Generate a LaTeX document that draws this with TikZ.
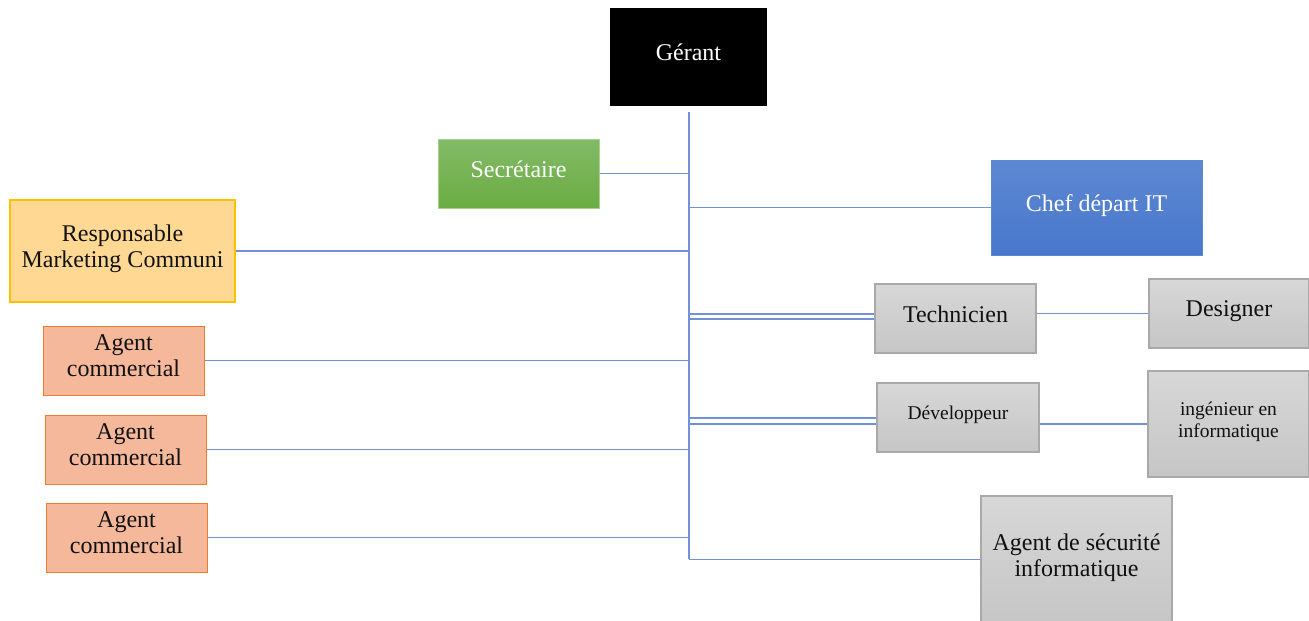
\documentclass[tikz,border=0pt]{standalone}
\usepackage{fontspec}
\setmainfont{Liberation Serif}
\definecolor{conn}{HTML}{7391D8}
\definecolor{grayfillT}{HTML}{D7D7D7}
\definecolor{grayfillB}{HTML}{C6C6C6}
\definecolor{grayline}{HTML}{A9A9A9}
\definecolor{greenT}{HTML}{82BA67}
\definecolor{greenB}{HTML}{6BAD42}
\definecolor{greenline}{HTML}{A9D18E}
\definecolor{blueT}{HTML}{5D88D2}
\definecolor{blueB}{HTML}{4877CC}
\definecolor{orangefill}{HTML}{FFD993}
\definecolor{orangeline}{HTML}{FFC000}
\definecolor{salmonfill}{HTML}{F5B89B}
\definecolor{salmonline}{HTML}{ED7D31}
\definecolor{txt}{HTML}{111111}
\newcommand{\bigtxt}{\fontsize{24}{26}\selectfont}
\newcommand{\smalltxt}{\fontsize{19.5}{22}\selectfont}
\tikzset{
  box/.style={inner sep=0pt, align=center, text=txt, font=\bigtxt, text depth=9pt},
  graybox/.style={box, draw=grayline, line width=1.2pt, top color=grayfillT, bottom color=grayfillB},
  salmonbox/.style={box, draw=salmonline, line width=1pt, fill=salmonfill},
  link/.style={draw=conn, line width=1.3pt}
}
\begin{document}
\begin{tikzpicture}[x=1pt,y=-1pt]
\useasboundingbox (0,0) rectangle (1309,621);
% nodes (centre at pixel positions)
\node[box, fill=black, text=white, minimum width=157, minimum height=98] (ger) at (688.5,57) {Gérant};
\node[box, draw=greenline, line width=1pt, top color=greenT, bottom color=greenB, text=white, minimum width=161, minimum height=69] (sec) at (518.5,173.5) {Secrétaire};
\node[box, draw=blueT, line width=0.5pt, top color=blueT, bottom color=blueB, text=white, minimum width=211, minimum height=95] (chef) at (1096.5,207.5) {Chef départ IT};
\node[box, draw=orangeline, line width=1.2pt, fill=orangefill, minimum width=225, minimum height=102] (resp) at (122.5,251) {Responsable\\Marketing Communi};
\node[salmonbox, minimum width=161, minimum height=69] (ag1) at (123.5,360.5) {Agent\\commercial};
\node[salmonbox, minimum width=161, minimum height=69] (ag2) at (125.5,449.5) {Agent\\commercial};
\node[salmonbox, minimum width=161, minimum height=69] (ag3) at (126.5,537.5) {Agent\\commercial};
\node[graybox, minimum width=161, minimum height=69] (tech) at (955.5,318.5) {Technicien};
\node[graybox, minimum width=160, minimum height=69] (des) at (1229,313.5) {Designer};
\node[graybox, font=\smalltxt, minimum width=162, minimum height=69] (dev) at (958,417.5) {Développeur};
\node[graybox, font=\smalltxt, minimum width=161, minimum height=106] (ing) at (1228.5,424) {ingénieur en\\informatique};
\node[graybox, minimum width=191, minimum height=127] (secu) at (1076.5,559.5) {Agent de sécurité\\informatique};
% trunk
\coordinate (top) at (689,112);
\coordinate (bot) at (689,559);
\draw[link] (top) -- (bot);
% branches
\draw[link] (sec.east) -- (sec.east -| top);
\draw[link] (chef.west) -- (chef.west -| top);
\draw[link] (resp.east) -- (resp.east -| top);
\draw[link] ([yshift=4.5pt]tech.west) -- ([yshift=4.5pt]tech.west -| top);
\draw[link] ([yshift=-0.5pt]tech.west) -- ([yshift=-0.5pt]tech.west -| top);
\draw[link] (tech.east |- des.west) -- (des.west);
\draw[link] (ag1.east) -- (ag1.east -| top);
\draw[link] ([yshift=-0.5pt]dev.west) -- ([yshift=-0.5pt]dev.west -| top);
\draw[link] ([yshift=-6.5pt]dev.west) -- ([yshift=-6.5pt]dev.west -| top);
\draw[link] (dev.east |- ing.west) -- (ing.west);
\draw[link] (ag2.east) -- (ag2.east -| top);
\draw[link] (ag3.east) -- (ag3.east -| top);
\draw[link] (secu.west) -- (secu.west -| top);
\end{tikzpicture}
\end{document}
